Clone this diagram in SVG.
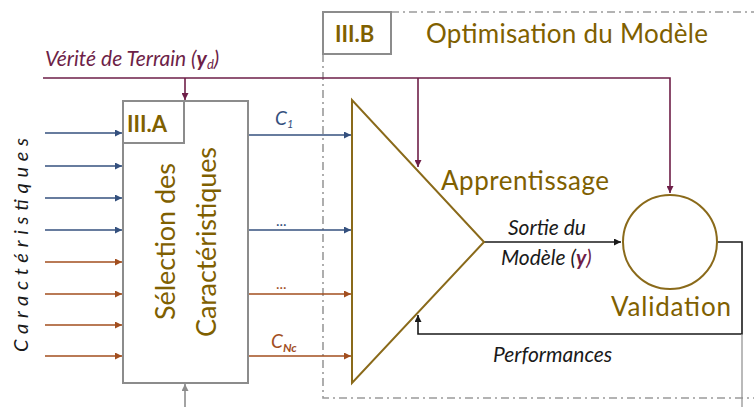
<svg xmlns="http://www.w3.org/2000/svg" width="754" height="407" viewBox="0 0 754 407">
<style>
.olive{fill:#7F6000;font-family:Lato,"Open Sans",sans-serif}
.big{font-size:26px}
.bold{font-weight:bold;font-size:22px}
.it{font-family:Lato,"Open Sans",sans-serif;font-style:italic;font-size:21px;fill:#1a1a1a}
.blue{stroke:#34507E;stroke-width:1.6;fill:none}
.brown{stroke:#A24E1E;stroke-width:1.6;fill:none}
.maroon{stroke:#6E1F48;stroke-width:1.6;fill:none}
.blk{stroke:#1a1a1a;stroke-width:1.6;fill:none}
.gray{stroke:#8C8C8C;stroke-width:2;fill:#fff}
.dash{stroke:#9A9A9A;stroke-width:1.6;fill:none;stroke-dasharray:8 4 2 4}
.gold{stroke:#8A6A1A;stroke-width:2;fill:none}
</style>
<defs>
<marker id="aBlue" viewBox="0 0 10 10" refX="10" refY="5" markerWidth="7" markerHeight="7" orient="auto" markerUnits="userSpaceOnUse"><path d="M0,0L10,5L0,10z" fill="#34507E"/></marker>
<marker id="aBrown" viewBox="0 0 10 10" refX="10" refY="5" markerWidth="7" markerHeight="7" orient="auto" markerUnits="userSpaceOnUse"><path d="M0,0L10,5L0,10z" fill="#A24E1E"/></marker>
<marker id="aMaroon" viewBox="0 0 10 10" refX="10" refY="5" markerWidth="7" markerHeight="7" orient="auto" markerUnits="userSpaceOnUse"><path d="M0,0L10,5L0,10z" fill="#6E1F48"/></marker>
<marker id="aBlk" viewBox="0 0 10 10" refX="10" refY="5" markerWidth="7" markerHeight="7" orient="auto" markerUnits="userSpaceOnUse"><path d="M0,0L10,5L0,10z" fill="#1a1a1a"/></marker>
<marker id="aGray" viewBox="0 0 10 10" refX="10" refY="5" markerWidth="7" markerHeight="7" orient="auto" markerUnits="userSpaceOnUse"><path d="M0,0L10,5L0,10z" fill="#8C8C8C"/></marker>
</defs>

<!-- Region III.B -->
<g id="region-IIIB">
<path class="dash" d="M323,54 V398 H754 M391,12 H754"/>
<rect x="323" y="12" width="68" height="42" fill="#fff" stroke="#8C8C8C" stroke-width="2"/>
<text class="olive bold" x="335" y="42">III.B</text>
<text class="olive big" x="426" y="43" textLength="282">Optimisation du Modèle</text>
</g>

<!-- Connectors -->
<g id="connectors">
<path class="maroon" d="M43,78 H670 V193" marker-end="url(#aMaroon)"/>
<path class="maroon" d="M185,78 V100" marker-end="url(#aMaroon)"/>
<path class="maroon" d="M418,78 V167" marker-end="url(#aMaroon)"/>
<path class="blue" d="M45,133 H122" marker-end="url(#aBlue)"/>
<path class="blue" d="M45,166 H122" marker-end="url(#aBlue)"/>
<path class="blue" d="M45,198 H122" marker-end="url(#aBlue)"/>
<path class="blue" d="M45,230 H122" marker-end="url(#aBlue)"/>
<path class="brown" d="M45,262 H122" marker-end="url(#aBrown)"/>
<path class="brown" d="M45,294 H122" marker-end="url(#aBrown)"/>
<path class="brown" d="M45,325 H122" marker-end="url(#aBrown)"/>
<path class="brown" d="M45,356 H122" marker-end="url(#aBrown)"/>
<path class="blue" d="M249,135 H351" marker-end="url(#aBlue)"/>
<path class="blue" d="M249,230 H351" marker-end="url(#aBlue)"/>
<path class="brown" d="M249,294 H351" marker-end="url(#aBrown)"/>
<path class="brown" d="M249,356 H351" marker-end="url(#aBrown)"/>
<path class="blk" d="M484,242 H621" marker-end="url(#aBlk)"/>
<path class="blk" d="M718,242 H742 V334 H418 V315" marker-end="url(#aBlk)"/>
<path d="M742,334 V407" stroke="#8C8C8C" stroke-width="1.2" fill="none"/>
<path d="M185,407 V384" stroke="#8C8C8C" stroke-width="1.6" fill="none" marker-end="url(#aGray)"/>
</g>

<g id="labels">
<text class="it" x="45" y="66" style="fill:#6E1F48" font-size="20">Vérité de Terrain (<tspan font-weight="bold">y</tspan><tspan font-size="13" dy="3">d</tspan><tspan dy="-3">)</tspan></text>
<text x="275" y="125" font-family="Lato,sans-serif" font-style="italic" font-size="19" fill="#34507E">C<tspan font-size="11" dy="3">1</tspan></text>
<text x="276" y="226" font-family="Lato,sans-serif" font-size="15" fill="#34507E">...</text>
<text x="276" y="289" font-family="Lato,sans-serif" font-size="15" fill="#A24E1E">...</text>
<text x="271" y="348" font-family="Lato,sans-serif" font-style="italic" font-size="19" fill="#A24E1E">C<tspan font-size="12" font-weight="bold" dy="4">Nc</tspan></text>
<text class="it" x="508" y="235">Sortie du</text>
<text class="it" x="501" y="265">Modèle (<tspan font-weight="bold" fill="#6E1F48">y</tspan><tspan fill="#6E1F48">)</tspan></text>
<text class="it" x="493" y="362">Performances</text>
<text transform="translate(28,352) rotate(-90)" font-family="Lato,sans-serif" font-style="italic" font-size="20" fill="#1a1a1a" textLength="214">Caractéristiques</text>
</g>

<g id="node-IIIA">
<rect class="gray" x="123" y="101" width="125" height="282"/>
<rect class="gray" x="123" y="101" width="61" height="42"/>
<text class="olive bold" x="127" y="132">III.A</text>
<text class="olive" font-size="27" transform="translate(175,320) rotate(-90)" textLength="157">Sélection des</text>
<text class="olive" font-size="27" transform="translate(216,337) rotate(-90)" textLength="190">Caractéristiques</text>
</g>

<g id="node-apprentissage">
<path class="gold" d="M352,100 V383 L484,242 Z"/>
<text class="olive big" x="441" y="190" textLength="168">Apprentissage</text>
</g>

<g id="node-validation">
<circle class="gold" cx="670" cy="242" r="47"/>
<text class="olive big" x="611" y="316" textLength="120">Validation</text>
</g>
</svg>
